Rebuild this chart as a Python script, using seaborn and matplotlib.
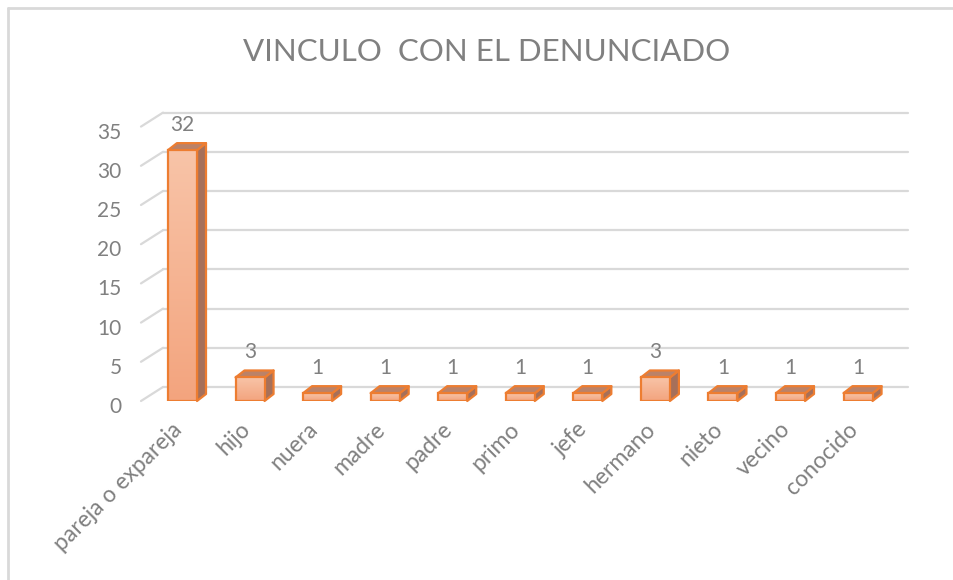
import numpy as np
import pandas as pd
import matplotlib
matplotlib.use("Agg")
import matplotlib.pyplot as plt
import matplotlib.transforms as mtransforms
from matplotlib.patches import Polygon
from matplotlib.lines import Line2D
from matplotlib.colors import LinearSegmentedColormap
import seaborn as sns

# data
categories = ["pareja o expareja", "hijo", "nuera", "madre", "padre", "primo",
              "jefe", "hermano", "nieto", "vecino", "conocido"]
counts = [32, 3, 1, 1, 1, 1, 1, 3, 1, 1, 1]
y_ticks = [0, 5, 10, 15, 20, 25, 30, 35]

df = pd.DataFrame({"vinculo": categories, "casos": counts})

sns.set_theme(style="white")
plt.rcParams["font.family"] = ["Lato", "DejaVu Sans"]

gray = "#808080"
grid_c = "#d9d9d9"
edge_c = "#ed7d31"
front_c = "#f6b290"
side_c = "#a6705a"
top_c = "#bb8268"
grad = LinearSegmentedColormap.from_list("bar_grad", ["#f3a47e", "#f8c4a8"])

fig = plt.figure(figsize=(9.54, 5.80), dpi=100)
W, H = 954, 580
# axes = front plane of the 3d box
x0_px, x1_px, y0_px, y1_px = 141, 886, 401, 126.6
ax = fig.add_axes([x0_px / W, (H - y0_px) / H, (x1_px - x0_px) / W, (y0_px - y1_px) / H])

sns.barplot(data=df, x="vinculo", y="casos", ax=ax, color=front_c, width=0.43,
            saturation=1, edgecolor=edge_c, linewidth=1.6, zorder=3)

xmin, xmax = -0.614, 10.414
ax.set_xlim(xmin, xmax)
ax.set_ylim(0, 35)

# pixel -> data conversion for the depth effect
px_x = (xmax - xmin) / (x1_px - x0_px)
px_y = 35 / (y0_px - y1_px)

# back wall gridlines + diagonals on left wall
gdx, gdy = 22 * px_x, 14 * px_y
for t in y_ticks:
    ax.add_line(Line2D([xmin + gdx, xmax + gdx], [t + gdy, t + gdy], color=grid_c,
                       lw=1.6, clip_on=False, zorder=1))
    ax.add_line(Line2D([xmin, xmin + gdx], [t, t + gdy], color=grid_c,
                       lw=1.6, clip_on=False, zorder=1))

# depth faces of the bars + gradient on the front face
bdx, bdy = 9 * px_x, 7 * px_y
gradient = np.linspace(0, 1, 256).reshape(-1, 1)
for p in list(ax.patches):
    bx, bw, bh = p.get_x(), p.get_width(), p.get_height()
    im = ax.imshow(gradient, cmap=grad, aspect="auto", origin="lower",
                   extent=(bx, bx + bw, 0, bh), zorder=3.1)
    im.set_clip_path(p)
    p.set_facecolor("none")
    p.set_zorder(3.2)
    side = Polygon([(bx + bw, 0), (bx + bw + bdx, bdy), (bx + bw + bdx, bh + bdy), (bx + bw, bh)],
                   closed=True, facecolor=side_c, edgecolor=edge_c, lw=1.6, zorder=3,
                   clip_on=False, joinstyle="round")
    top = Polygon([(bx, bh), (bx + bdx, bh + bdy), (bx + bw + bdx, bh + bdy), (bx + bw, bh)],
                  closed=True, facecolor=top_c, edgecolor=edge_c, lw=1.6, zorder=3,
                  clip_on=False, joinstyle="round")
    ax.add_patch(side)
    ax.add_patch(top)
    ax.text(bx + bw / 2, bh + 25 * px_y, f"{int(bh)}", ha="center", va="center",
            fontsize=15, color=gray, clip_on=False)

ax.set_xlim(xmin, xmax)
ax.set_ylim(0, 35)

for s in ax.spines.values():
    s.set_visible(False)
ax.set_xlabel("")
ax.set_ylabel("")
ax.set_yticks(y_ticks)
ax.tick_params(axis="y", length=0, pad=14, labelsize=15, labelcolor=gray)
ax.tick_params(axis="x", length=0, pad=12, labelsize=16.5, labelcolor=gray)
shift_y = mtransforms.ScaledTranslation(0, -4 / 100, fig.dpi_scale_trans)
for lab in ax.get_yticklabels():
    lab.set_transform(lab.get_transform() + shift_y)
shift_x = mtransforms.ScaledTranslation(-11 / 100, -1 / 100, fig.dpi_scale_trans)
for lab in ax.get_xticklabels():
    lab.set_rotation(45)
    lab.set_ha("right")
    lab.set_rotation_mode("anchor")
    lab.set_transform(lab.get_transform() + shift_x)

fig.text(487 / W, 1 - 52 / H, "VINCULO  CON EL DENUNCIADO", ha="center", va="center",
         fontsize=22.5, color=gray)

# chart frame (left and top edges visible)
fig.add_artist(Line2D([8.5 / W, 8.5 / W], [0, 1 - 7.5 / H], color="#d9d9d9", lw=2))
fig.add_artist(Line2D([8.5 / W, 1], [1 - 7.5 / H, 1 - 7.5 / H], color="#d9d9d9", lw=2))

fig.savefig("out.png", dpi=100)
